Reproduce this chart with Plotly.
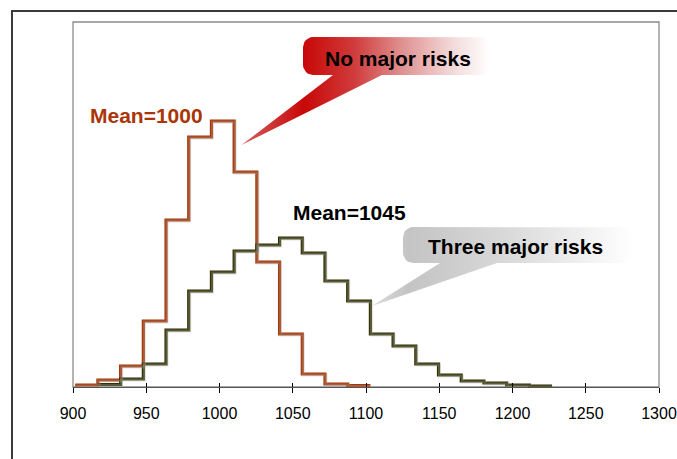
import plotly.graph_objects as go

# ---------------- data ----------------
bin_edges = [901.5, 917, 932.5, 948, 963.5, 979, 994.5, 1010, 1025.5, 1041, 1056.5,
             1072, 1087.5, 1103, 1118.5, 1134, 1149.5, 1165, 1180.5, 1196, 1211.5, 1227]
# "No major risks" histogram (starts at first bin)
no_risk_freq = [2, 7, 21, 66, 167, 250, 266, 215, 125, 53, 13, 3, 1.5]
no_risk_start = 0
# "Three major risks" histogram (starts at second bin)
three_risk_freq = [2.5, 8, 23, 57, 96, 115, 136, 142, 149, 134, 106, 86, 53, 41, 23, 12, 6, 4, 2, 1]
three_risk_start = 1
x_ticks = [900, 950, 1000, 1050, 1100, 1150, 1200, 1250, 1300]
mean_labels = ["Mean=1000", "Mean=1045"]
callout_labels = ["No major risks", "Three major risks"]

# ---------------- layout constants ----------------
W, H = 677, 459
ML, MR, MT, MB = 73, 18, 22, 72
XR = (900, 1300)
YR = (0, 365)
RED = "#A83608"
OLIVE = "#313104"
FONT = "Liberation Sans, Arial, sans-serif"

pw = W - ML - MR
ph = H - MT - MB


def px2x(px):
    return XR[0] + (px - ML) / pw * (XR[1] - XR[0])


def px2y(py):
    return YR[0] + (H - MB - py) / ph * (YR[1] - YR[0])


def step_xy(start, vals):
    xs = bin_edges[start:start + len(vals) + 1]
    ys = list(vals) + [vals[-1]]
    return xs, ys


def callout_path(x0, y0, x1, y1, r, ta, tb, tip):
    import math
    pts = []

    def arc(cx, cy, a0, a1):
        for i in range(7):
            a = math.radians(a0 + (a1 - a0) * i / 6)
            pts.append((cx + r * math.cos(a), cy + r * math.sin(a)))
    # screen coords (y down)
    arc(x0 + r, y0 + r, 180, 270)          # top-left
    arc(x1 - r, y0 + r, 270, 360)          # top-right
    arc(x1 - r, y1 - r, 0, 90)             # bottom-right
    pts.append((tb, y1))
    pts.append(tip)
    pts.append((ta, y1))
    arc(x0 + r, y1 - r, 90, 180)           # bottom-left
    pts.append(pts[0])
    return [px2x(p[0]) for p in pts], [px2y(p[1]) for p in pts]


fig = go.Figure()

# callout balloons
cx, cy = callout_path(303, 37, 490, 75, 10, 333, 382, (241.5, 145))
fig.add_trace(go.Scatter(
    x=cx, y=cy, mode="lines", fill="toself", line=dict(width=0),
    fillgradient=dict(type="horizontal",
                      colorscale=[[0, "#d66060"], [0.25, "#c80808"], [0.45, "#d03a3a"],
                                  [0.65, "#e09292"], [0.85, "#f3dada"], [1, "#ffffff"]]),
    hoverinfo="skip", showlegend=False, xaxis="x2"))
cx, cy = callout_path(403, 227, 633, 263, 10, 440, 497, (372, 306))
fig.add_trace(go.Scatter(
    x=cx, y=cy, mode="lines", fill="toself", line=dict(width=0),
    fillgradient=dict(type="horizontal",
                      colorscale=[[0, "#dadada"], [0.14, "#c4c4c4"], [0.5, "#d8d8d8"],
                                  [1, "#ffffff"]]),
    hoverinfo="skip", showlegend=False, xaxis="x2"))

# shadows
for start, vals in [(no_risk_start, no_risk_freq), (three_risk_start, three_risk_freq)]:
    xs, ys = step_xy(start, vals)
    fig.add_trace(go.Scatter(x=xs, y=ys, mode="lines", line=dict(color="rgba(170,170,160,0.35)", width=3, shape="hv"),
                             xaxis="x3", yaxis="y3", hoverinfo="skip", showlegend=False))

# histograms
xs, ys = step_xy(no_risk_start, no_risk_freq)
fig.add_trace(go.Scatter(x=xs, y=ys, mode="lines", line=dict(color=RED, width=3.2, shape="hv"),
                         name=callout_labels[0], showlegend=False))
xs, ys = step_xy(three_risk_start, three_risk_freq)
fig.add_trace(go.Scatter(x=xs, y=ys, mode="lines", line=dict(color=OLIVE, width=3.2, shape="hv"),
                         name=callout_labels[1], showlegend=False))

annots = [
    dict(x=px2x(146), y=px2y(115), text=mean_labels[0], font=dict(color=RED, size=21, family=FONT, weight="bold")),
    dict(x=px2x(349), y=px2y(212.5), text=mean_labels[1], font=dict(color="#000000", size=21, family=FONT, weight="bold")),
    dict(x=px2x(398), y=px2y(58), text=callout_labels[0], font=dict(color="#000000", size=21, family=FONT, weight="bold")),
    dict(x=px2x(515.5), y=px2y(246), text=callout_labels[1], font=dict(color="#000000", size=21, family=FONT, weight="bold")),
]
for a in annots:
    a.update(xref="x", yref="y", showarrow=False, xanchor="center", yanchor="middle")

sh = 1.0  # shadow offset in px
fig.update_layout(
    width=W, height=H,
    margin=dict(l=ML, r=MR, t=MT, b=MB, pad=0, autoexpand=False),
    paper_bgcolor="white", plot_bgcolor="white",
    annotations=annots,
    xaxis=dict(range=list(XR), tickvals=x_ticks, ticktext=[str(v) for v in x_ticks],
               ticks="outside", ticklen=5, tickcolor="#000000", tickwidth=1,
               showline=True, linecolor="#555555", linewidth=1.3,
               showgrid=False, zeroline=False, automargin=False,
               tickfont=dict(family=FONT, size=16, color="#000000"),
               ticklabelstandoff=7),
    xaxis2=dict(range=list(XR), overlaying="x", anchor="y", side="bottom",
                tickvals=x_ticks, ticks="inside", ticklen=4, tickcolor="#000000", tickwidth=1,
                showticklabels=False, showline=False, showgrid=False, zeroline=False,
                automargin=False),
    xaxis3=dict(range=[XR[0] - sh * (XR[1] - XR[0]) / pw, XR[1] - sh * (XR[1] - XR[0]) / pw],
                overlaying="x", anchor="y3", visible=False, automargin=False),
    yaxis=dict(range=list(YR), showticklabels=False, ticks="", showgrid=False, zeroline=False,
               showline=False, automargin=False),
    yaxis3=dict(range=[YR[0] + sh, YR[1] + sh], overlaying="y", anchor="x3", visible=False,
                automargin=False),
    shapes=[
        dict(type="rect", xref="paper", yref="paper", x0=0, x1=1, y0=0, y1=1,
             line=dict(color="#8c8c8c", width=1.3), layer="below"),
        dict(type="rect", xref="paper", yref="paper",
             x0=(12 - ML) / pw, x1=1.2, y0=-0.5, y1=(H - MB - 11) / ph,
             line=dict(color="#3a3a3a", width=2), layer="below"),
    ],
)

fig.write_html("out.html")
